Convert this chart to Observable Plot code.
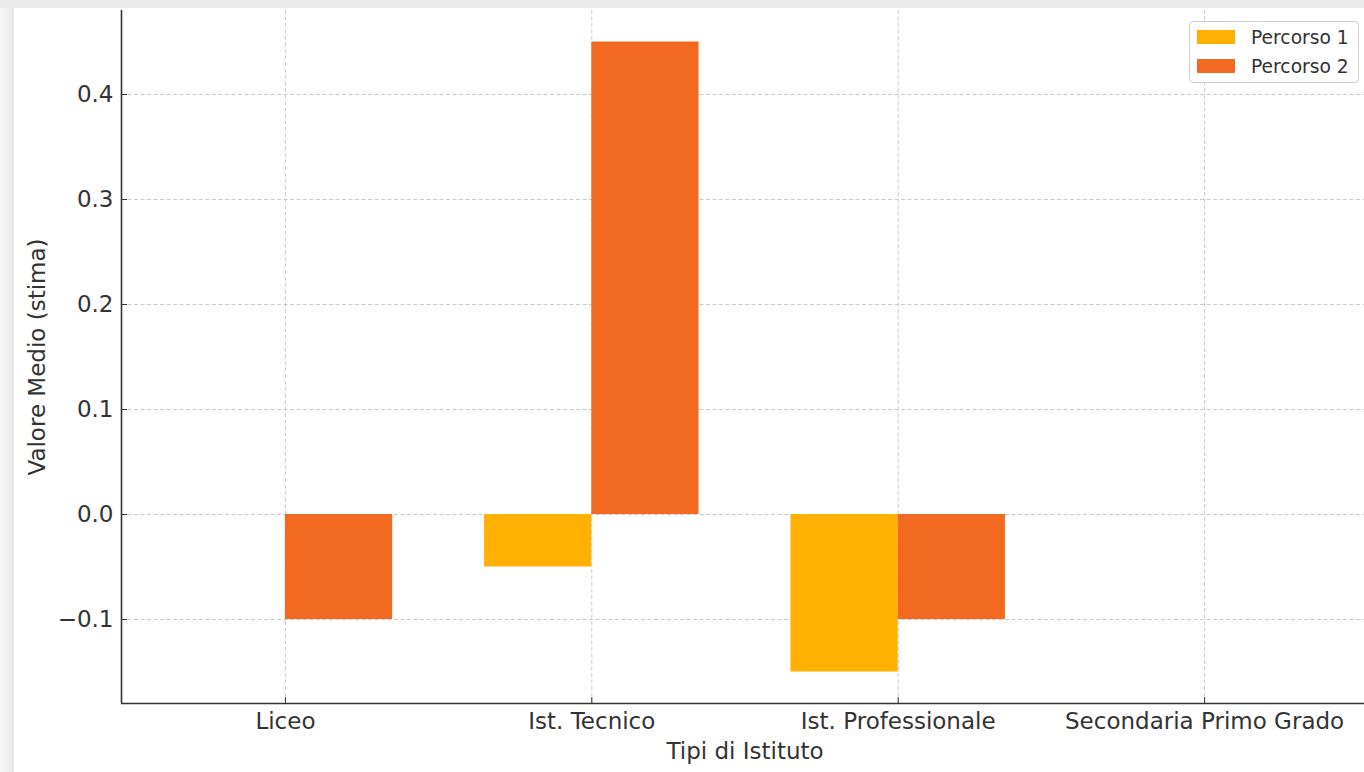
<!DOCTYPE html>
<html>
<head>
<meta charset="utf-8">
<script src="https://cdn.jsdelivr.net/npm/d3@7"></script>
<script src="https://cdn.jsdelivr.net/npm/@observablehq/plot@0.6"></script>
<style>
  html, body { margin: 0; padding: 0; width: 1364px; height: 772px; overflow: hidden; }
  body { background: linear-gradient(to right, #f7f7f7 0px, #f2f2f2 5px, #ebebeb 10px, #e6e6e6 13px, #ebebeb 14px); position: relative; font-family: "DejaVu Sans", sans-serif; }
  #topband { position: absolute; left: 0; top: 0; width: 1364px; height: 8px; background: #ebebeb; }
  #card { position: absolute; left: 14px; top: 8px; width: 1350px; height: 764px; background: #fff; overflow: hidden; }
  #chart svg { display: block; max-width: none !important; }
  #legend { position: absolute; left: 1175px; top: 13px; width: 168px; height: 60px; border: 1px solid #d0d0d0; border-radius: 4px; background: rgba(255,255,255,0.85); }
  .item { position: absolute; left: 0; height: 20px; display: flex; align-items: center; font-size: 18.7px; color: #333; white-space: nowrap; }
  .sw { width: 38px; height: 14px; margin-left: 7px; margin-right: 16px; }
</style>
</head>
<body>
<div id="topband"></div>
<div id="card"><div id="chart"></div><div id="legend"></div></div>
<script>
const categories = ["Liceo", "Ist. Tecnico", "Ist. Professionale", "Secondaria Primo Grado"];
const series = ["Percorso 1", "Percorso 2"];
const percorso1 = [0, -0.05, -0.15, 0];
const percorso2 = [-0.1, 0.45, -0.1, 0];
const yTicks = [-0.1, 0.0, 0.1, 0.2, 0.3, 0.4];
const colors = ["#FFB000", "#F26A22"];

const barWidth = 0.35;
const rows = [];
categories.forEach((c, i) => {
  rows.push({i, cat: c, series: series[0], value: percorso1[i], x1: i - barWidth, x2: i});
  rows.push({i, cat: c, series: series[1], value: percorso2[i], x1: i, x2: i + barWidth});
});
const bars = rows.filter(d => d.value !== 0);

const xDomain = [-0.535, 3.535];
const yDomain = [-0.18, 0.48];
const fmt = d3.format(".1f");

const chart = Plot.plot({
  width: 1354,
  height: 764,
  marginLeft: 107,
  marginRight: 0,
  marginTop: 2,
  marginBottom: 69,
  style: { fontFamily: "DejaVu Sans", fontSize: "23px", color: "#333", background: "transparent", overflow: "visible" },
  x: { type: "linear", domain: xDomain },
  y: { domain: yDomain },
  color: { domain: series, range: colors },
  marks: [
    Plot.gridY(yTicks, { stroke: "#c4c4c4", strokeOpacity: 1, strokeDasharray: "4,2.5", strokeWidth: 0.9 }),
    Plot.gridX(d3.range(categories.length), { stroke: "#c4c4c4", strokeOpacity: 1, strokeDasharray: "4,2.5", strokeWidth: 0.9 }),
    Plot.rect(bars, { x1: "x1", x2: "x2", y1: 0, y2: "value", fill: "series" }),
    Plot.axisY(yTicks, { tickFormat: fmt, tickSize: -6, tickPadding: 14, label: null, stroke: "#333" }),
    Plot.axisX(d3.range(categories.length), { tickFormat: i => categories[i], tickSize: -6, tickPadding: 15.5, label: null, stroke: "#333" }),
    Plot.ruleX([xDomain[0]], { stroke: "#333", strokeWidth: 1.6 }),
    Plot.ruleY([yDomain[0]], { stroke: "#333", strokeWidth: 1.6 }),
    Plot.text(["Valore Medio (stima)"], { frameAnchor: "left", textAnchor: "middle", dx: -84, rotate: -90, fill: "#333", fontSize: 23 }),
    Plot.text(["Tipi di Istituto"], { frameAnchor: "bottom", textAnchor: "middle", dy: 55, fill: "#333", fontSize: 23 })
  ]
});
document.getElementById("chart").appendChild(chart);

const legend = document.getElementById("legend");
series.forEach((s, k) => {
  const item = document.createElement("div");
  item.className = "item";
  item.style.top = (5 + k * 29) + "px";
  const sw = document.createElement("div");
  sw.className = "sw";
  sw.style.background = colors[k];
  const t = document.createElement("span");
  t.textContent = s;
  item.appendChild(sw);
  item.appendChild(t);
  legend.appendChild(item);
});
</script>
</body>
</html>
